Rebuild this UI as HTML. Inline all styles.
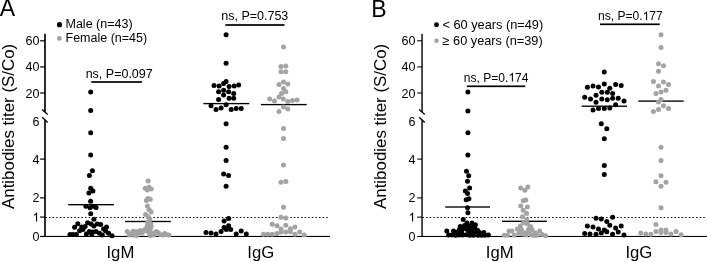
<!DOCTYPE html><html><head><meta charset="utf-8"><style>html,body{margin:0;padding:0;background:#fff}svg{display:block;will-change:transform}svg text{font-family:"Liberation Sans",sans-serif}</style></head><body><svg width="707" height="262" viewBox="0 0 707 262" fill="#000"><rect width="707" height="262" fill="#fff"/><text x="-0.3" y="16" font-size="23">A</text><text x="371.2" y="17.2" font-size="23">B</text><text transform="translate(13.6,126.4) rotate(-90)" text-anchor="middle" font-size="16.9">Antibodies titer (S/Co)</text><text transform="translate(385.8,126.4) rotate(-90)" text-anchor="middle" font-size="16.9">Antibodies titer (S/Co)</text><rect x="44.17" y="33.8" width="1.65" height="78" fill="#000"/><rect x="44.17" y="120.2" width="1.65" height="116.80" fill="#000"/><line x1="42.1" y1="109.4" x2="47.7" y2="114.6" stroke="#000" stroke-width="1.3"/><line x1="42.1" y1="117.3" x2="47.7" y2="122.5" stroke="#000" stroke-width="1.3"/><rect x="44.17" y="235.90" width="285.8" height="1.1" fill="#000"/><rect x="40.1" y="40.20" width="4.9" height="1.2" fill="#000"/><text x="39.4" y="45.30" text-anchor="end" font-size="12.5">60</text><rect x="40.1" y="66.30" width="4.9" height="1.2" fill="#000"/><text x="39.4" y="71.40" text-anchor="end" font-size="12.5">40</text><rect x="40.1" y="92.40" width="4.9" height="1.2" fill="#000"/><text x="39.4" y="97.50" text-anchor="end" font-size="12.5">20</text><text x="39.4" y="125.70" text-anchor="end" font-size="12.5">6</text><rect x="40.1" y="158.50" width="4.9" height="1.2" fill="#000"/><text x="39.4" y="163.60" text-anchor="end" font-size="12.5">4</text><rect x="40.1" y="197.30" width="4.9" height="1.2" fill="#000"/><text x="39.4" y="202.40" text-anchor="end" font-size="12.5">2</text><rect x="40.1" y="216.50" width="4.9" height="1.2" fill="#000"/><path transform="translate(32.45,221.60) scale(0.00610,-0.00610)" d="M763,0 L583,0 L583,1147 Q518,1085 412.5,1023 Q307,961 223,930 L223,1104 Q374,1175 487,1276 Q600,1377 647,1472 L763,1472 Z" fill="#000"/><rect x="40.1" y="235.85" width="4.9" height="1.2" fill="#000"/><text x="39.4" y="240.95" text-anchor="end" font-size="12.5">0</text><line x1="45.45" y1="217.5" x2="328.60" y2="217.5" stroke="#000" stroke-width="1.15" stroke-dasharray="1.45 2.15"/><rect x="421.35" y="33.8" width="1.4" height="78" fill="#000"/><rect x="421.35" y="120.2" width="1.4" height="116.77" fill="#000"/><line x1="419.15000000000003" y1="109.4" x2="424.75" y2="114.6" stroke="#000" stroke-width="1.3"/><line x1="419.15000000000003" y1="117.3" x2="424.75" y2="122.5" stroke="#000" stroke-width="1.3"/><rect x="421.35" y="235.92" width="285.8" height="1.05" fill="#000"/><rect x="417.2" y="40.27" width="4.9" height="1.05" fill="#000"/><text x="415.4" y="45.30" text-anchor="end" font-size="12.5">60</text><rect x="417.2" y="66.38" width="4.9" height="1.05" fill="#000"/><text x="415.4" y="71.40" text-anchor="end" font-size="12.5">40</text><rect x="417.2" y="92.47" width="4.9" height="1.05" fill="#000"/><text x="415.4" y="97.50" text-anchor="end" font-size="12.5">20</text><text x="415.4" y="125.70" text-anchor="end" font-size="12.5">6</text><rect x="417.2" y="158.57" width="4.9" height="1.05" fill="#000"/><text x="415.4" y="163.60" text-anchor="end" font-size="12.5">4</text><rect x="417.2" y="197.38" width="4.9" height="1.05" fill="#000"/><text x="415.4" y="202.40" text-anchor="end" font-size="12.5">2</text><rect x="417.2" y="216.57" width="4.9" height="1.05" fill="#000"/><path transform="translate(408.50,221.60) scale(0.00610,-0.00610)" d="M763,0 L583,0 L583,1147 Q518,1085 412.5,1023 Q307,961 223,930 L223,1104 Q374,1175 487,1276 Q600,1377 647,1472 L763,1472 Z" fill="#000"/><rect x="417.2" y="235.92" width="4.9" height="1.05" fill="#000"/><text x="415.4" y="240.95" text-anchor="end" font-size="12.5">0</text><line x1="422.50" y1="217.5" x2="705.65" y2="217.5" stroke="#000" stroke-width="1.15" stroke-dasharray="1.45 2.15"/><circle cx="59.5" cy="24.7" r="2.6" fill="#000"/><circle cx="59.4" cy="38.4" r="2.45" fill="#a3a3a3"/><text x="65.5" y="27.9" font-size="12.5">Male (n=43)</text><text x="65.5" y="42.4" font-size="12.5">Female (n=45)</text><circle cx="436.5" cy="24.8" r="2.45" fill="#000"/><circle cx="436.5" cy="40.7" r="2.25" fill="#a3a3a3"/><text x="442.5" y="29.0" font-size="12.75">&lt; 60 years (n=49)</text><text x="442.5" y="45.3" font-size="12.75">≥ 60 years (n=39)</text><text x="120.4" y="258" text-anchor="middle" font-size="16.7">IgM</text><text x="260.8" y="258" text-anchor="middle" font-size="16.7">IgG</text><text x="499.7" y="258" text-anchor="middle" font-size="16.7">IgM</text><text x="638.9" y="258" text-anchor="middle" font-size="16.7">IgG</text><text x="119.2" y="77.5" text-anchor="middle" font-size="12.5">ns, P=0.097</text><rect x="91.3" y="81.15" width="50.6" height="1.7" fill="#000"/><text x="254.8" y="19.8" text-anchor="middle" font-size="12.5">ns, P=0.753</text><rect x="225.3" y="24.15" width="59.2" height="1.7" fill="#000"/><text x="463.87" y="81.5" font-size="12.05">ns, P=0.</text><path transform="translate(508.42,81.50) scale(0.00588,-0.00588)" d="M763,0 L583,0 L583,1147 Q518,1085 412.5,1023 Q307,961 223,930 L223,1104 Q374,1175 487,1276 Q600,1377 647,1472 L763,1472 Z" fill="#000"/><text x="515.12" y="81.5" font-size="12.05">74</text><rect x="466.8" y="85.45" width="58.5" height="1.7" fill="#000"/><text x="598.07" y="20.1" font-size="12.05">ns, P=0.</text><path transform="translate(642.62,20.10) scale(0.00588,-0.00588)" d="M763,0 L583,0 L583,1147 Q518,1085 412.5,1023 Q307,961 223,930 L223,1104 Q374,1175 487,1276 Q600,1377 647,1472 L763,1472 Z" fill="#000"/><text x="649.32" y="20.1" font-size="12.05">77</text><rect x="600" y="23.45" width="59.7" height="1.7" fill="#000"/><rect x="68.2" y="204.02" width="45.7" height="1.35" fill="#000"/><rect x="125.1" y="220.82" width="45.7" height="1.35" fill="#000"/><rect x="203.4" y="102.92" width="45.9" height="1.35" fill="#000"/><rect x="260.9" y="103.92" width="45.8" height="1.35" fill="#000"/><rect x="445.2" y="206.32" width="44.8" height="1.35" fill="#000"/><rect x="502" y="220.62" width="44.9" height="1.35" fill="#000"/><rect x="581.6" y="105.53" width="45.4" height="1.35" fill="#000"/><rect x="638.3" y="100.42" width="45.4" height="1.35" fill="#000"/><circle cx="90.7" cy="92.0" r="2.5" fill="#000"/><circle cx="90.7" cy="110.4" r="2.5" fill="#000"/><circle cx="90.7" cy="132.8" r="2.5" fill="#000"/><circle cx="90.7" cy="155.0" r="2.5" fill="#000"/><circle cx="92.4" cy="170.8" r="2.5" fill="#000"/><circle cx="89.4" cy="175.6" r="2.5" fill="#000"/><circle cx="90.7" cy="188.2" r="2.5" fill="#000"/><circle cx="88.9" cy="192.9" r="2.5" fill="#000"/><circle cx="92.9" cy="191.1" r="2.5" fill="#000"/><circle cx="90.6" cy="201.2" r="2.5" fill="#000"/><circle cx="85.9" cy="206.2" r="2.5" fill="#000"/><circle cx="90.0" cy="207.7" r="2.5" fill="#000"/><circle cx="93.2" cy="206.2" r="2.5" fill="#000"/><circle cx="96.0" cy="207.6" r="2.5" fill="#000"/><circle cx="90.7" cy="213.7" r="2.5" fill="#000"/><circle cx="93.9" cy="219.2" r="2.5" fill="#000"/><circle cx="77.8" cy="223.7" r="2.5" fill="#000"/><circle cx="87.6" cy="222.7" r="2.5" fill="#000"/><circle cx="91.0" cy="224.0" r="2.5" fill="#000"/><circle cx="97.3" cy="224.0" r="2.5" fill="#000"/><circle cx="100.7" cy="224.4" r="2.5" fill="#000"/><circle cx="74.6" cy="227.3" r="2.5" fill="#000"/><circle cx="81.7" cy="226.9" r="2.5" fill="#000"/><circle cx="85.1" cy="226.5" r="2.5" fill="#000"/><circle cx="93.9" cy="226.1" r="2.5" fill="#000"/><circle cx="106.5" cy="226.9" r="2.5" fill="#000"/><circle cx="79.6" cy="230.7" r="2.5" fill="#000"/><circle cx="83.0" cy="229.4" r="2.5" fill="#000"/><circle cx="103.6" cy="229.0" r="2.5" fill="#000"/><circle cx="89.3" cy="231.5" r="2.5" fill="#000"/><circle cx="92.7" cy="232.0" r="2.5" fill="#000"/><circle cx="96.0" cy="231.5" r="2.5" fill="#000"/><circle cx="99.4" cy="233.2" r="2.5" fill="#000"/><circle cx="105.7" cy="231.1" r="2.5" fill="#000"/><circle cx="108.6" cy="233.2" r="2.5" fill="#000"/><circle cx="70.0" cy="234.5" r="2.5" fill="#000"/><circle cx="72.9" cy="234.5" r="2.5" fill="#000"/><circle cx="76.3" cy="234.5" r="2.5" fill="#000"/><circle cx="86.4" cy="234.1" r="2.5" fill="#000"/><circle cx="91.8" cy="234.3" r="2.5" fill="#000"/><circle cx="102.3" cy="234.9" r="2.5" fill="#000"/><circle cx="112.0" cy="235.7" r="2.5" fill="#000"/><circle cx="148.1" cy="181.0" r="2.5" fill="#a3a3a3"/><circle cx="145.3" cy="188.3" r="2.5" fill="#a3a3a3"/><circle cx="147.3" cy="189.9" r="2.5" fill="#a3a3a3"/><circle cx="149.0" cy="187.2" r="2.5" fill="#a3a3a3"/><circle cx="151.1" cy="188.9" r="2.5" fill="#a3a3a3"/><circle cx="146.3" cy="200.6" r="2.5" fill="#a3a3a3"/><circle cx="148.1" cy="198.4" r="2.5" fill="#a3a3a3"/><circle cx="150.3" cy="199.2" r="2.5" fill="#a3a3a3"/><circle cx="147.3" cy="206.1" r="2.5" fill="#a3a3a3"/><circle cx="149.0" cy="209.5" r="2.5" fill="#a3a3a3"/><circle cx="151.1" cy="212.1" r="2.5" fill="#a3a3a3"/><circle cx="145.6" cy="214.6" r="2.5" fill="#a3a3a3"/><circle cx="148.1" cy="216.7" r="2.5" fill="#a3a3a3"/><circle cx="149.8" cy="219.7" r="2.5" fill="#a3a3a3"/><circle cx="147.6" cy="222.3" r="2.5" fill="#a3a3a3"/><circle cx="150.6" cy="223.8" r="2.5" fill="#a3a3a3"/><circle cx="147.4" cy="225.4" r="2.5" fill="#a3a3a3"/><circle cx="127.2" cy="231.5" r="2.5" fill="#a3a3a3"/><circle cx="129.4" cy="234.9" r="2.5" fill="#a3a3a3"/><circle cx="133.0" cy="231.2" r="2.5" fill="#a3a3a3"/><circle cx="131.4" cy="233.6" r="2.5" fill="#a3a3a3"/><circle cx="134.4" cy="235.3" r="2.5" fill="#a3a3a3"/><circle cx="136.4" cy="231.5" r="2.5" fill="#a3a3a3"/><circle cx="136.9" cy="235.6" r="2.5" fill="#a3a3a3"/><circle cx="140.4" cy="230.5" r="2.5" fill="#a3a3a3"/><circle cx="139.0" cy="232.8" r="2.5" fill="#a3a3a3"/><circle cx="141.9" cy="233.1" r="2.5" fill="#a3a3a3"/><circle cx="143.8" cy="231.0" r="2.5" fill="#a3a3a3"/><circle cx="146.3" cy="228.2" r="2.5" fill="#a3a3a3"/><circle cx="148.8" cy="226.4" r="2.5" fill="#a3a3a3"/><circle cx="144.8" cy="229.6" r="2.5" fill="#a3a3a3"/><circle cx="149.8" cy="233.9" r="2.5" fill="#a3a3a3"/><circle cx="147.8" cy="231.2" r="2.5" fill="#a3a3a3"/><circle cx="150.4" cy="235.4" r="2.5" fill="#a3a3a3"/><circle cx="152.9" cy="233.4" r="2.5" fill="#a3a3a3"/><circle cx="150.2" cy="229.3" r="2.5" fill="#a3a3a3"/><circle cx="149.6" cy="231.6" r="2.5" fill="#a3a3a3"/><circle cx="151.2" cy="226.6" r="2.5" fill="#a3a3a3"/><circle cx="153.8" cy="235.0" r="2.5" fill="#a3a3a3"/><circle cx="156.4" cy="231.5" r="2.5" fill="#a3a3a3"/><circle cx="154.8" cy="232.8" r="2.5" fill="#a3a3a3"/><circle cx="158.4" cy="232.8" r="2.5" fill="#a3a3a3"/><circle cx="159.9" cy="234.4" r="2.5" fill="#a3a3a3"/><circle cx="162.9" cy="235.0" r="2.5" fill="#a3a3a3"/><circle cx="164.8" cy="233.4" r="2.5" fill="#a3a3a3"/><circle cx="166.6" cy="234.8" r="2.5" fill="#a3a3a3"/><circle cx="168.8" cy="235.1" r="2.5" fill="#a3a3a3"/><circle cx="226.1" cy="34.8" r="2.5" fill="#000"/><circle cx="226.1" cy="63.3" r="2.5" fill="#000"/><circle cx="226.1" cy="81.4" r="2.5" fill="#000"/><circle cx="223.6" cy="83.4" r="2.5" fill="#000"/><circle cx="214.0" cy="85.4" r="2.5" fill="#000"/><circle cx="219.1" cy="85.9" r="2.5" fill="#000"/><circle cx="229.1" cy="86.5" r="2.5" fill="#000"/><circle cx="234.2" cy="85.9" r="2.5" fill="#000"/><circle cx="238.7" cy="84.9" r="2.5" fill="#000"/><circle cx="223.6" cy="90.2" r="2.5" fill="#000"/><circle cx="218.6" cy="91.7" r="2.5" fill="#000"/><circle cx="228.6" cy="91.7" r="2.5" fill="#000"/><circle cx="233.7" cy="93.5" r="2.5" fill="#000"/><circle cx="223.6" cy="95.0" r="2.5" fill="#000"/><circle cx="218.6" cy="99.5" r="2.5" fill="#000"/><circle cx="229.1" cy="98.3" r="2.5" fill="#000"/><circle cx="233.7" cy="98.3" r="2.5" fill="#000"/><circle cx="211.0" cy="105.8" r="2.5" fill="#000"/><circle cx="226.1" cy="104.8" r="2.5" fill="#000"/><circle cx="216.0" cy="109.6" r="2.5" fill="#000"/><circle cx="221.1" cy="108.1" r="2.5" fill="#000"/><circle cx="231.2" cy="109.6" r="2.5" fill="#000"/><circle cx="236.2" cy="108.6" r="2.5" fill="#000"/><circle cx="241.2" cy="108.6" r="2.5" fill="#000"/><circle cx="226.1" cy="123.7" r="2.5" fill="#000"/><circle cx="226.1" cy="147.3" r="2.5" fill="#000"/><circle cx="226.1" cy="160.6" r="2.5" fill="#000"/><circle cx="223.6" cy="174.0" r="2.5" fill="#000"/><circle cx="228.6" cy="175.5" r="2.5" fill="#000"/><circle cx="226.1" cy="186.3" r="2.5" fill="#000"/><circle cx="228.6" cy="218.5" r="2.5" fill="#000"/><circle cx="224.1" cy="221.1" r="2.5" fill="#000"/><circle cx="228.6" cy="225.8" r="2.5" fill="#000"/><circle cx="224.1" cy="227.4" r="2.5" fill="#000"/><circle cx="226.3" cy="229.4" r="2.5" fill="#000"/><circle cx="230.7" cy="229.6" r="2.5" fill="#000"/><circle cx="221.1" cy="231.6" r="2.5" fill="#000"/><circle cx="206.0" cy="232.4" r="2.5" fill="#000"/><circle cx="211.0" cy="232.9" r="2.5" fill="#000"/><circle cx="216.0" cy="233.9" r="2.5" fill="#000"/><circle cx="236.2" cy="233.9" r="2.5" fill="#000"/><circle cx="241.2" cy="231.1" r="2.5" fill="#000"/><circle cx="246.3" cy="233.9" r="2.5" fill="#000"/><circle cx="283.5" cy="46.9" r="2.5" fill="#a3a3a3"/><circle cx="281.0" cy="66.6" r="2.5" fill="#a3a3a3"/><circle cx="285.8" cy="66.1" r="2.5" fill="#a3a3a3"/><circle cx="281.0" cy="71.8" r="2.5" fill="#a3a3a3"/><circle cx="285.8" cy="71.8" r="2.5" fill="#a3a3a3"/><circle cx="283.5" cy="81.9" r="2.5" fill="#a3a3a3"/><circle cx="279.0" cy="84.4" r="2.5" fill="#a3a3a3"/><circle cx="287.8" cy="83.9" r="2.5" fill="#a3a3a3"/><circle cx="283.5" cy="88.5" r="2.5" fill="#a3a3a3"/><circle cx="285.8" cy="91.7" r="2.5" fill="#a3a3a3"/><circle cx="281.5" cy="93.5" r="2.5" fill="#a3a3a3"/><circle cx="279.0" cy="97.0" r="2.5" fill="#a3a3a3"/><circle cx="283.3" cy="99.0" r="2.5" fill="#a3a3a3"/><circle cx="269.7" cy="99.0" r="2.5" fill="#a3a3a3"/><circle cx="274.5" cy="101.1" r="2.5" fill="#a3a3a3"/><circle cx="287.8" cy="101.6" r="2.5" fill="#a3a3a3"/><circle cx="292.4" cy="100.6" r="2.5" fill="#a3a3a3"/><circle cx="297.1" cy="100.1" r="2.5" fill="#a3a3a3"/><circle cx="283.5" cy="107.1" r="2.5" fill="#a3a3a3"/><circle cx="287.8" cy="109.1" r="2.5" fill="#a3a3a3"/><circle cx="279.0" cy="111.6" r="2.5" fill="#a3a3a3"/><circle cx="283.5" cy="128.5" r="2.5" fill="#a3a3a3"/><circle cx="283.5" cy="138.4" r="2.5" fill="#a3a3a3"/><circle cx="283.5" cy="165.1" r="2.5" fill="#a3a3a3"/><circle cx="281.0" cy="182.2" r="2.5" fill="#a3a3a3"/><circle cx="285.8" cy="181.6" r="2.5" fill="#a3a3a3"/><circle cx="283.5" cy="207.2" r="2.5" fill="#a3a3a3"/><circle cx="281.0" cy="217.3" r="2.5" fill="#a3a3a3"/><circle cx="285.8" cy="218.0" r="2.5" fill="#a3a3a3"/><circle cx="272.2" cy="224.3" r="2.5" fill="#a3a3a3"/><circle cx="277.0" cy="225.8" r="2.5" fill="#a3a3a3"/><circle cx="285.8" cy="225.3" r="2.5" fill="#a3a3a3"/><circle cx="281.0" cy="229.1" r="2.5" fill="#a3a3a3"/><circle cx="290.4" cy="228.8" r="2.5" fill="#a3a3a3"/><circle cx="294.9" cy="226.9" r="2.5" fill="#a3a3a3"/><circle cx="281.0" cy="231.9" r="2.5" fill="#a3a3a3"/><circle cx="285.8" cy="232.1" r="2.5" fill="#a3a3a3"/><circle cx="290.4" cy="231.8" r="2.5" fill="#a3a3a3"/><circle cx="277.0" cy="233.4" r="2.5" fill="#a3a3a3"/><circle cx="299.7" cy="232.1" r="2.5" fill="#a3a3a3"/><circle cx="263.4" cy="234.2" r="2.5" fill="#a3a3a3"/><circle cx="267.7" cy="234.2" r="2.5" fill="#a3a3a3"/><circle cx="272.2" cy="234.2" r="2.5" fill="#a3a3a3"/><circle cx="294.9" cy="234.2" r="2.5" fill="#a3a3a3"/><circle cx="304.2" cy="234.9" r="2.5" fill="#a3a3a3"/><circle cx="467.9" cy="92.0" r="2.5" fill="#000"/><circle cx="467.9" cy="110.9" r="2.5" fill="#000"/><circle cx="467.9" cy="132.8" r="2.5" fill="#000"/><circle cx="467.9" cy="155.0" r="2.5" fill="#000"/><circle cx="466.5" cy="171.2" r="2.5" fill="#000"/><circle cx="468.7" cy="175.7" r="2.5" fill="#000"/><circle cx="467.5" cy="181.3" r="2.5" fill="#000"/><circle cx="469.6" cy="188.0" r="2.5" fill="#000"/><circle cx="465.4" cy="191.0" r="2.5" fill="#000"/><circle cx="467.5" cy="193.5" r="2.5" fill="#000"/><circle cx="466.2" cy="199.7" r="2.5" fill="#000"/><circle cx="468.9" cy="198.7" r="2.5" fill="#000"/><circle cx="467.5" cy="207.7" r="2.5" fill="#000"/><circle cx="467.9" cy="212.8" r="2.5" fill="#000"/><circle cx="463.2" cy="219.4" r="2.5" fill="#000"/><circle cx="467.0" cy="223.1" r="2.5" fill="#000"/><circle cx="472.0" cy="223.1" r="2.5" fill="#000"/><circle cx="460.3" cy="226.5" r="2.5" fill="#000"/><circle cx="464.5" cy="225.4" r="2.5" fill="#000"/><circle cx="468.8" cy="226.2" r="2.5" fill="#000"/><circle cx="472.6" cy="226.4" r="2.5" fill="#000"/><circle cx="475.4" cy="224.8" r="2.5" fill="#000"/><circle cx="459.5" cy="229.2" r="2.5" fill="#000"/><circle cx="463.4" cy="228.6" r="2.5" fill="#000"/><circle cx="467.2" cy="229.4" r="2.5" fill="#000"/><circle cx="471.0" cy="229.6" r="2.5" fill="#000"/><circle cx="475.0" cy="228.4" r="2.5" fill="#000"/><circle cx="477.8" cy="230.4" r="2.5" fill="#000"/><circle cx="446.8" cy="231.1" r="2.5" fill="#000"/><circle cx="453.5" cy="231.1" r="2.5" fill="#000"/><circle cx="457.2" cy="232.0" r="2.5" fill="#000"/><circle cx="461.6" cy="231.8" r="2.5" fill="#000"/><circle cx="469.4" cy="232.4" r="2.5" fill="#000"/><circle cx="473.2" cy="232.2" r="2.5" fill="#000"/><circle cx="477.2" cy="232.4" r="2.5" fill="#000"/><circle cx="480.4" cy="233.0" r="2.5" fill="#000"/><circle cx="483.8" cy="232.4" r="2.5" fill="#000"/><circle cx="448.6" cy="234.9" r="2.5" fill="#000"/><circle cx="452.0" cy="235.0" r="2.5" fill="#000"/><circle cx="459.0" cy="235.0" r="2.5" fill="#000"/><circle cx="462.5" cy="235.0" r="2.5" fill="#000"/><circle cx="466.0" cy="234.8" r="2.5" fill="#000"/><circle cx="469.6" cy="235.2" r="2.5" fill="#000"/><circle cx="478.0" cy="235.2" r="2.5" fill="#000"/><circle cx="481.5" cy="235.2" r="2.5" fill="#000"/><circle cx="485.0" cy="235.2" r="2.5" fill="#000"/><circle cx="488.4" cy="234.9" r="2.5" fill="#000"/><circle cx="455.6" cy="235.2" r="2.5" fill="#000"/><circle cx="473.4" cy="235.3" r="2.5" fill="#000"/><circle cx="520.7" cy="188.0" r="2.5" fill="#a3a3a3"/><circle cx="527.9" cy="187.1" r="2.5" fill="#a3a3a3"/><circle cx="524.9" cy="190.2" r="2.5" fill="#a3a3a3"/><circle cx="523.2" cy="200.8" r="2.5" fill="#a3a3a3"/><circle cx="525.8" cy="200.0" r="2.5" fill="#a3a3a3"/><circle cx="520.7" cy="206.1" r="2.5" fill="#a3a3a3"/><circle cx="527.4" cy="206.9" r="2.5" fill="#a3a3a3"/><circle cx="523.2" cy="210.3" r="2.5" fill="#a3a3a3"/><circle cx="526.6" cy="213.6" r="2.5" fill="#a3a3a3"/><circle cx="522.5" cy="216.8" r="2.5" fill="#a3a3a3"/><circle cx="526.7" cy="219.8" r="2.5" fill="#a3a3a3"/><circle cx="523.7" cy="222.7" r="2.5" fill="#a3a3a3"/><circle cx="527.5" cy="224.0" r="2.5" fill="#a3a3a3"/><circle cx="520.4" cy="226.1" r="2.5" fill="#a3a3a3"/><circle cx="530.5" cy="226.5" r="2.5" fill="#a3a3a3"/><circle cx="517.4" cy="229.0" r="2.5" fill="#a3a3a3"/><circle cx="532.1" cy="229.4" r="2.5" fill="#a3a3a3"/><circle cx="521.4" cy="229.6" r="2.5" fill="#a3a3a3"/><circle cx="528.6" cy="229.2" r="2.5" fill="#a3a3a3"/><circle cx="525.0" cy="232.7" r="2.5" fill="#a3a3a3"/><circle cx="509.0" cy="231.0" r="2.5" fill="#a3a3a3"/><circle cx="512.0" cy="231.0" r="2.5" fill="#a3a3a3"/><circle cx="539.7" cy="231.1" r="2.5" fill="#a3a3a3"/><circle cx="529.2" cy="232.6" r="2.5" fill="#a3a3a3"/><circle cx="535.1" cy="232.8" r="2.5" fill="#a3a3a3"/><circle cx="518.7" cy="233.2" r="2.5" fill="#a3a3a3"/><circle cx="522.1" cy="234.1" r="2.5" fill="#a3a3a3"/><circle cx="504.4" cy="235.2" r="2.5" fill="#a3a3a3"/><circle cx="507.6" cy="235.3" r="2.5" fill="#a3a3a3"/><circle cx="514.1" cy="235.3" r="2.5" fill="#a3a3a3"/><circle cx="525.8" cy="234.9" r="2.5" fill="#a3a3a3"/><circle cx="531.3" cy="234.9" r="2.5" fill="#a3a3a3"/><circle cx="537.2" cy="235.2" r="2.5" fill="#a3a3a3"/><circle cx="542.2" cy="234.5" r="2.5" fill="#a3a3a3"/><circle cx="545.6" cy="235.7" r="2.5" fill="#a3a3a3"/><circle cx="534.4" cy="235.4" r="2.5" fill="#a3a3a3"/><circle cx="604.3" cy="72.1" r="2.5" fill="#000"/><circle cx="587.4" cy="87.2" r="2.5" fill="#000"/><circle cx="593.0" cy="85.9" r="2.5" fill="#000"/><circle cx="598.5" cy="87.0" r="2.5" fill="#000"/><circle cx="604.3" cy="83.9" r="2.5" fill="#000"/><circle cx="609.8" cy="88.2" r="2.5" fill="#000"/><circle cx="615.6" cy="84.4" r="2.5" fill="#000"/><circle cx="621.2" cy="85.4" r="2.5" fill="#000"/><circle cx="601.8" cy="92.2" r="2.5" fill="#000"/><circle cx="607.3" cy="92.2" r="2.5" fill="#000"/><circle cx="596.0" cy="95.3" r="2.5" fill="#000"/><circle cx="612.6" cy="93.5" r="2.5" fill="#000"/><circle cx="584.7" cy="97.3" r="2.5" fill="#000"/><circle cx="590.5" cy="99.0" r="2.5" fill="#000"/><circle cx="601.8" cy="99.0" r="2.5" fill="#000"/><circle cx="607.3" cy="99.8" r="2.5" fill="#000"/><circle cx="612.6" cy="98.3" r="2.5" fill="#000"/><circle cx="618.2" cy="98.3" r="2.5" fill="#000"/><circle cx="624.0" cy="101.1" r="2.5" fill="#000"/><circle cx="596.0" cy="102.3" r="2.5" fill="#000"/><circle cx="615.6" cy="104.8" r="2.5" fill="#000"/><circle cx="593.0" cy="109.9" r="2.5" fill="#000"/><circle cx="598.5" cy="108.6" r="2.5" fill="#000"/><circle cx="604.3" cy="108.6" r="2.5" fill="#000"/><circle cx="609.8" cy="108.1" r="2.5" fill="#000"/><circle cx="601.3" cy="123.7" r="2.5" fill="#000"/><circle cx="606.8" cy="128.8" r="2.5" fill="#000"/><circle cx="604.3" cy="138.7" r="2.5" fill="#000"/><circle cx="604.3" cy="165.6" r="2.5" fill="#000"/><circle cx="604.3" cy="174.5" r="2.5" fill="#000"/><circle cx="612.6" cy="217.3" r="2.5" fill="#000"/><circle cx="596.0" cy="218.3" r="2.5" fill="#000"/><circle cx="601.3" cy="219.0" r="2.5" fill="#000"/><circle cx="606.8" cy="221.6" r="2.5" fill="#000"/><circle cx="609.8" cy="225.3" r="2.5" fill="#000"/><circle cx="587.4" cy="226.1" r="2.5" fill="#000"/><circle cx="593.0" cy="227.1" r="2.5" fill="#000"/><circle cx="615.6" cy="227.9" r="2.5" fill="#000"/><circle cx="621.2" cy="226.1" r="2.5" fill="#000"/><circle cx="598.5" cy="229.1" r="2.5" fill="#000"/><circle cx="604.3" cy="229.9" r="2.5" fill="#000"/><circle cx="606.8" cy="231.8" r="2.5" fill="#000"/><circle cx="601.3" cy="232.9" r="2.5" fill="#000"/><circle cx="618.2" cy="232.1" r="2.5" fill="#000"/><circle cx="584.7" cy="233.4" r="2.5" fill="#000"/><circle cx="590.0" cy="233.9" r="2.5" fill="#000"/><circle cx="596.0" cy="234.2" r="2.5" fill="#000"/><circle cx="612.6" cy="234.2" r="2.5" fill="#000"/><circle cx="624.0" cy="234.9" r="2.5" fill="#000"/><circle cx="661.0" cy="34.8" r="2.5" fill="#a3a3a3"/><circle cx="661.0" cy="47.4" r="2.5" fill="#a3a3a3"/><circle cx="658.5" cy="63.8" r="2.5" fill="#a3a3a3"/><circle cx="663.5" cy="65.8" r="2.5" fill="#a3a3a3"/><circle cx="658.5" cy="71.3" r="2.5" fill="#a3a3a3"/><circle cx="653.4" cy="81.4" r="2.5" fill="#a3a3a3"/><circle cx="663.5" cy="81.9" r="2.5" fill="#a3a3a3"/><circle cx="668.5" cy="84.4" r="2.5" fill="#a3a3a3"/><circle cx="658.5" cy="85.9" r="2.5" fill="#a3a3a3"/><circle cx="666.0" cy="90.2" r="2.5" fill="#a3a3a3"/><circle cx="661.0" cy="92.0" r="2.5" fill="#a3a3a3"/><circle cx="655.9" cy="93.5" r="2.5" fill="#a3a3a3"/><circle cx="661.0" cy="99.5" r="2.5" fill="#a3a3a3"/><circle cx="658.5" cy="102.1" r="2.5" fill="#a3a3a3"/><circle cx="663.5" cy="105.8" r="2.5" fill="#a3a3a3"/><circle cx="668.5" cy="108.6" r="2.5" fill="#a3a3a3"/><circle cx="658.5" cy="109.6" r="2.5" fill="#a3a3a3"/><circle cx="653.4" cy="111.6" r="2.5" fill="#a3a3a3"/><circle cx="661.0" cy="147.3" r="2.5" fill="#a3a3a3"/><circle cx="661.0" cy="160.6" r="2.5" fill="#a3a3a3"/><circle cx="661.0" cy="175.7" r="2.5" fill="#a3a3a3"/><circle cx="655.9" cy="181.7" r="2.5" fill="#a3a3a3"/><circle cx="666.0" cy="182.2" r="2.5" fill="#a3a3a3"/><circle cx="661.0" cy="186.2" r="2.5" fill="#a3a3a3"/><circle cx="661.0" cy="207.7" r="2.5" fill="#a3a3a3"/><circle cx="655.9" cy="224.6" r="2.5" fill="#a3a3a3"/><circle cx="640.8" cy="232.9" r="2.5" fill="#a3a3a3"/><circle cx="645.9" cy="233.9" r="2.5" fill="#a3a3a3"/><circle cx="650.9" cy="234.2" r="2.5" fill="#a3a3a3"/><circle cx="655.9" cy="231.6" r="2.5" fill="#a3a3a3"/><circle cx="661.0" cy="229.9" r="2.5" fill="#a3a3a3"/><circle cx="661.0" cy="232.6" r="2.5" fill="#a3a3a3"/><circle cx="666.0" cy="229.9" r="2.5" fill="#a3a3a3"/><circle cx="666.0" cy="232.6" r="2.5" fill="#a3a3a3"/><circle cx="671.0" cy="233.9" r="2.5" fill="#a3a3a3"/><circle cx="676.1" cy="231.6" r="2.5" fill="#a3a3a3"/><circle cx="681.1" cy="234.7" r="2.5" fill="#a3a3a3"/></svg></body></html>
